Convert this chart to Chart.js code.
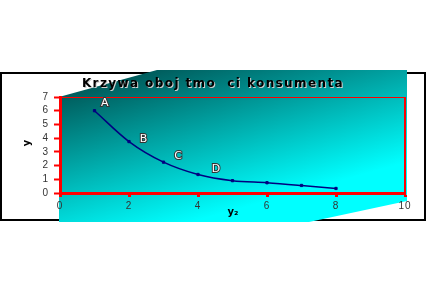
<!DOCTYPE html>
<html>
<head>
<meta charset="utf-8">
<script src="https://cdn.jsdelivr.net/npm/chart.js@4.4.1/dist/chart.umd.min.js"></script>
<style>
html,body{margin:0;padding:0;background:#fff;}
#wrap{width:427px;height:291px;position:relative;}
</style>
</head>
<body>
<div id="wrap"><canvas id="c" width="427" height="291"></canvas></div>
<script>
// ---- data ----
const titleText = "Krzywa oboj tmo  ci konsumenta";
const xValues = [1, 2, 3, 4, 5, 6, 7, 8];
const yValues = [6, 3.75, 2.25, 1.35, 0.9, 0.75, 0.55, 0.33];
const xTicks = [0, 2, 4, 6, 8, 10];
const yTicks = [0, 1, 2, 3, 4, 5, 6, 7];
const pointNames = ["A", "B", "C", "D"];
const pointNameX = [1.3, 2.42, 3.42, 4.52];
const pointNameY = [6.55, 3.9, 2.7, 1.72];
const xAxisTitle = "y\u2082";
const yAxisTitle = "y";

const points = xValues.map((x, i) => ({x: x, y: yValues[i]}));

const decor = {
  id: 'decor',
  beforeDraw(chart) {
    const ctx = chart.ctx;
    ctx.save();
    // black frame
    ctx.strokeStyle = '#000';
    ctx.lineWidth = 2;
    ctx.strokeRect(1, 73, 424, 147);
    // gradient backdrop
    const g = ctx.createLinearGradient(60, 84, 105, 246);
    g.addColorStop(0, '#005050');
    g.addColorStop(1, '#00ffff');
    ctx.fillStyle = g;
    ctx.beginPath();
    ctx.moveTo(157, 70);
    ctx.lineTo(407, 70);
    ctx.lineTo(407, 201);
    ctx.lineTo(309, 222);
    ctx.lineTo(59, 222);
    ctx.lineTo(59, 97);
    ctx.closePath();
    ctx.fill();
    // title
    ctx.font = 'bold 12px "DejaVu Sans"';
    ctx.letterSpacing = '1.4px';
    ctx.textAlign = 'center';
    ctx.textBaseline = 'middle';
    ctx.fillStyle = '#cfcfcf';
    ctx.fillText(titleText, 214, 85);
    ctx.fillStyle = '#000';
    ctx.fillText(titleText, 213, 84);
    ctx.restore();
    ctx.letterSpacing = '1px';
  },
  afterDraw(chart) {
    const ctx = chart.ctx;
    const a = chart.chartArea;
    const xs = chart.scales.x, ys = chart.scales.y;
    ctx.save();
    ctx.letterSpacing = '0px';
    ctx.strokeStyle = '#ff0000';
    ctx.lineWidth = 1;
    ctx.beginPath();
    ctx.moveTo(a.left, a.top + 0.5);
    ctx.lineTo(a.right, a.top + 0.5);
    ctx.stroke();
    ctx.lineWidth = 2;
    ctx.beginPath();
    ctx.moveTo(a.right, a.top);
    ctx.lineTo(a.right, a.bottom);
    ctx.stroke();
    // point names
    ctx.font = '11px "DejaVu Sans"';
    ctx.textAlign = 'center';
    ctx.textBaseline = 'middle';
    ctx.lineWidth = 2;
    ctx.strokeStyle = '#333';
    ctx.fillStyle = '#ffffff';
    pointNames.forEach((n, i) => {
      const px = xs.getPixelForValue(pointNameX[i]);
      const py = ys.getPixelForValue(pointNameY[i]);
      ctx.strokeText(n, px, py);
      ctx.fillText(n, px, py);
    });
    // axis titles
    ctx.fillStyle = '#000';
    ctx.font = 'bold 10px "DejaVu Sans"';
    ctx.fillText(xAxisTitle, 233, 212);
    ctx.translate(27, 143);
    ctx.rotate(-Math.PI / 2);
    ctx.fillText(yAxisTitle, 0, 0);
    ctx.restore();
  }
};

new Chart(document.getElementById('c'), {
  type: 'line',
  data: {
    datasets: [{
      data: points,
      borderColor: '#000080',
      backgroundColor: '#000080',
      borderWidth: 1.5,
      pointStyle: 'rect',
      pointRadius: 1.6,
      pointBorderWidth: 1,
      cubicInterpolationMode: 'monotone',
      fill: false
    }]
  },
  options: {
    responsive: false,
    animation: false,
    devicePixelRatio: 1,
    layout: {padding: {left: 0, right: 22, top: 97, bottom: 68}},
    plugins: {legend: {display: false}, tooltip: {enabled: false}, title: {display: false}},
    scales: {
      x: {
        type: 'linear', min: 0, max: 10,
        afterFit(s) { s.height = 30; },
        afterBuildTicks(s) { s.ticks = xTicks.map(v => ({value: v})); },
        border: {display: true, color: '#ff0000', width: 3},
        grid: {display: true, drawOnChartArea: false, drawTicks: true, tickLength: 4, tickWidth: 3, tickColor: '#ff0000', color: '#ff0000'},
        ticks: {color: '#333', font: {family: 'Liberation Sans', size: 10}, padding: 3, maxRotation: 0, autoSkip: false}
      },
      y: {
        type: 'linear', min: 0, max: 7,
        afterFit(s) { s.width = 60; },
        afterBuildTicks(s) { s.ticks = yTicks.map(v => ({value: v})); },
        border: {display: true, color: '#ff0000', width: 3},
        grid: {display: true, drawOnChartArea: false, drawTicks: true, tickLength: 6, tickWidth: 2, tickColor: '#ff0000', color: '#ff0000'},
        ticks: {color: '#333', font: {family: 'Liberation Sans', size: 10}, padding: 5, autoSkip: false}
      }
    }
  },
  plugins: [decor]
});
</script>
</body>
</html>
